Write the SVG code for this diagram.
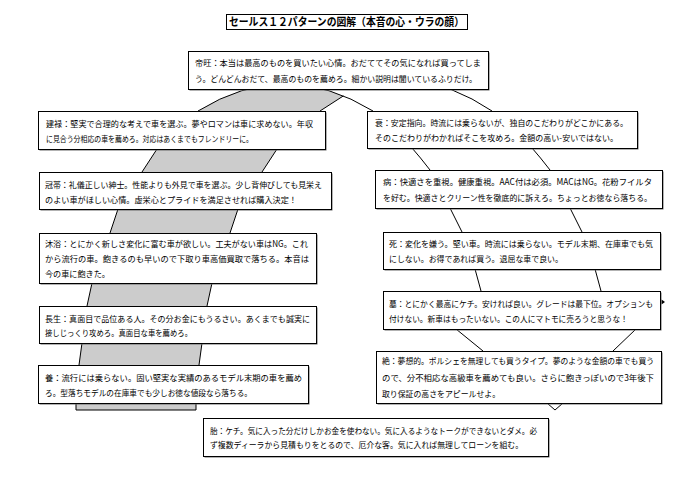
<svg xmlns="http://www.w3.org/2000/svg" width="700" height="494" viewBox="0 0 700 494">
<style>
text{font-family:"Noto Sans CJK JP","Noto Sans",sans-serif;font-size:8.4px;fill:#000}
.title{font-size:11px;font-weight:bold}
.box{fill:#fff;stroke:#000;stroke-width:1}
.sh{fill:#666}
.edge{fill:none;stroke:#000;stroke-width:1}
.band{fill:#cccccc;stroke:none}
</style>
<rect width="700" height="494" fill="#fff"/>
<g id="title">
<rect x="226.5" y="14.5" width="241" height="15" fill="#fff" stroke="#000"/>
<text class="title" x="229" y="25.5" textLength="235" lengthAdjust="spacingAndGlyphs">セールス１２パターンの図解（本音の心・ウラの顔）</text>
</g>
<g id="connectors">
<path class="band" d="M198,111 Q270.4,66.1 343.4,95.9 L320,111 L277,149 L262,172 L238,209 L230,233 L212,283 L207,306 L202,343 L199,365 L196,403 L196,410 L76,410 L76,403 L79,365 L82,343 L87,306 L92,283 L110,233 L118,209 L142,172 L157,149 Z"/>
<path class="edge" d="M198,111 Q285,57 373,111"/>
<path class="edge" d="M320,111 L343.4,95.9"/>
<path class="edge" d="M157,149 L142,172 M277,149 L262,172"/>
<path class="edge" d="M118,209 L110,233 M238,209 L230,233"/>
<path class="edge" d="M92,283 L87,306 M212,283 L207,306"/>
<path class="edge" d="M82,343 L79,365 M202,343 L199,365"/>
<path class="edge" d="M76,403 L76,410 L196,410 L196,403"/>
<path class="edge" d="M450,89 Q473,98 492,111"/>
<path class="edge" d="M412,148 Q420,157 430,170 M532,148 Q540,157 550,170"/>
<path class="edge" d="M450,208 L462,232 M570,208 L582,232"/>
<path class="edge" d="M475,269 L481,291 M595,269 L601,291"/>
<path class="edge" d="M456,329 L483,351 M636,329 L613,351"/>
<path class="edge" d="M547,403 L555,410 L563,403"/>
<path d="M661.5,299.5 L665,302 L661.5,304.5 Z" fill="#000"/>
</g>
<g id="teiou">
<rect class="sh" x="189.5" y="52.5" width="300" height="38"/>
<rect class="box" x="188.5" y="51.5" width="300" height="38"/>
<text x="195" y="66" textLength="286" lengthAdjust="spacingAndGlyphs">帝旺：本当は最高のものを買いたい心情。おだててその気になれば買ってしま</text>
<text x="195" y="82" textLength="282" lengthAdjust="spacingAndGlyphs">う。どんどんおだて、最高のものを薦めろ。細かい説明は聞いているふりだけ。</text>
</g>
<g id="kenroku">
<rect class="sh" x="39.5" y="112.5" width="287" height="38"/>
<rect class="box" x="38.5" y="111.5" width="287" height="38"/>
<text x="46" y="126.5" textLength="267" lengthAdjust="spacingAndGlyphs">建禄：堅実で合理的な考えで車を選ぶ。夢やロマンは車に求めない。年収</text>
<text x="46" y="142" textLength="207" lengthAdjust="spacingAndGlyphs">に見合う分相応の車を薦めろ。対応はあくまでもフレンドリーに。</text>
</g>
<g id="kantai">
<rect class="sh" x="40.5" y="173.5" width="292" height="37"/>
<rect class="box" x="39.5" y="172.5" width="292" height="37"/>
<text x="45" y="187.5" textLength="277" lengthAdjust="spacingAndGlyphs">冠帯：礼儀正しい紳士。性能よりも外見で車を選ぶ。少し背伸びしても見栄え</text>
<text x="45" y="202.5" textLength="252" lengthAdjust="spacingAndGlyphs">のよい車がほしい心情。虚栄心とプライドを満足させれば購入決定！</text>
</g>
<g id="mokuyoku">
<rect class="sh" x="40.5" y="234.5" width="277" height="50"/>
<rect class="box" x="39.5" y="233.5" width="277" height="50"/>
<text x="45" y="247" textLength="263" lengthAdjust="spacingAndGlyphs">沐浴：とにかく新しさ変化に富む車が欲しい。工夫がない車はNG。これ</text>
<text x="45" y="261.5" textLength="264" lengthAdjust="spacingAndGlyphs">から流行の車。飽きるのも早いので下取り車高価買取で落ちる。本音は</text>
<text x="45" y="276.5" textLength="65" lengthAdjust="spacingAndGlyphs">今の車に飽きた。</text>
</g>
<g id="chousei">
<rect class="sh" x="40.5" y="307.5" width="277" height="37"/>
<rect class="box" x="39.5" y="306.5" width="277" height="37"/>
<text x="45" y="321.5" textLength="265" lengthAdjust="spacingAndGlyphs">長生：真面目で品位ある人。その分お金にもうるさい。あくまでも誠実に</text>
<text x="45" y="335.5" textLength="147" lengthAdjust="spacingAndGlyphs">接しじっくり攻めろ。真面目な車を薦めろ。</text>
</g>
<g id="you">
<rect class="sh" x="39.5" y="366.5" width="270" height="38"/>
<rect class="box" x="38.5" y="365.5" width="270" height="38"/>
<text x="45" y="380.5" textLength="257" lengthAdjust="spacingAndGlyphs">養：流行には乗らない。固い堅実な実績のあるモデル末期の車を薦め</text>
<text x="45" y="395.5" textLength="207" lengthAdjust="spacingAndGlyphs">ろ。型落ちモデルの在庫車でも少しお徳な値段なら落ちる。</text>
</g>
<g id="sui">
<rect class="sh" x="368.5" y="112.5" width="270" height="37"/>
<rect class="box" x="367.5" y="111.5" width="270" height="37"/>
<text x="375" y="125.5" textLength="253" lengthAdjust="spacingAndGlyphs">衰：安定指向。時流には乗らないが、独自のこだわりがどこかにある。</text>
<text x="375" y="140.5" textLength="243" lengthAdjust="spacingAndGlyphs">そのこだわりがわかればそこを攻めろ。金額の高い-安いではない。</text>
</g>
<g id="byou">
<rect class="sh" x="376.5" y="171.5" width="287" height="38"/>
<rect class="box" x="375.5" y="170.5" width="287" height="38"/>
<text x="383" y="184.5" textLength="269" lengthAdjust="spacingAndGlyphs">病：快適さを重視。健康重視。AAC付は必須。MACはNG。花粉フイルタ</text>
<text x="383" y="200.5" textLength="269" lengthAdjust="spacingAndGlyphs">を好む。快適さとクリーン性を徹底的に訴えろ。ちょっとお徳なら落ちる。</text>
</g>
<g id="shi">
<rect class="sh" x="384.5" y="233.5" width="277" height="37"/>
<rect class="box" x="383.5" y="232.5" width="277" height="37"/>
<text x="389" y="246.5" textLength="264" lengthAdjust="spacingAndGlyphs">死：変化を嫌う。堅い車。時流には乗らない。モデル末期、在庫車でも気</text>
<text x="389" y="261.5" textLength="174" lengthAdjust="spacingAndGlyphs">にしない。お得であれば買う。退屈な車で良い。</text>
</g>
<g id="haka">
<rect class="sh" x="384.5" y="292.5" width="277" height="38"/>
<rect class="box" x="383.5" y="291.5" width="277" height="38"/>
<text x="389" y="306.5" textLength="264" lengthAdjust="spacingAndGlyphs">墓：とにかく最高にケチ。安ければ良い。グレードは最下位。オプションも</text>
<text x="389" y="321.5" textLength="239" lengthAdjust="spacingAndGlyphs">付けない。新車はもったいない。この人にマトモに売ろうと思うな！</text>
</g>
<g id="zetsu">
<rect class="sh" x="377.5" y="352.5" width="285" height="52"/>
<rect class="box" x="376.5" y="351.5" width="285" height="52"/>
<text x="382" y="363.5" textLength="272" lengthAdjust="spacingAndGlyphs">絶：夢想的。ポルシェを無理しても買うタイプ。夢のような金額の車でも買う</text>
<text x="382" y="380.5" textLength="272" lengthAdjust="spacingAndGlyphs">ので、分不相応な高級車を薦めても良い。さらに飽きっぽいので3年後下</text>
<text x="382" y="397" textLength="118" lengthAdjust="spacingAndGlyphs">取り保証の高さをアピールせよ。</text>
</g>
<g id="tai">
<rect class="sh" x="204.5" y="419.5" width="345" height="38"/>
<rect class="box" x="203.5" y="418.5" width="345" height="38"/>
<text x="210" y="434" textLength="327" lengthAdjust="spacingAndGlyphs">胎：ケチ。気に入った分だけしかお金を使わない。気に入るようなトークができないとダメ。必</text>
<text x="210" y="448" textLength="313" lengthAdjust="spacingAndGlyphs">ず複数ディーラから見積もりをとるので、厄介な客。気に入れば無理してローンを組む。</text>
</g>
</svg>
